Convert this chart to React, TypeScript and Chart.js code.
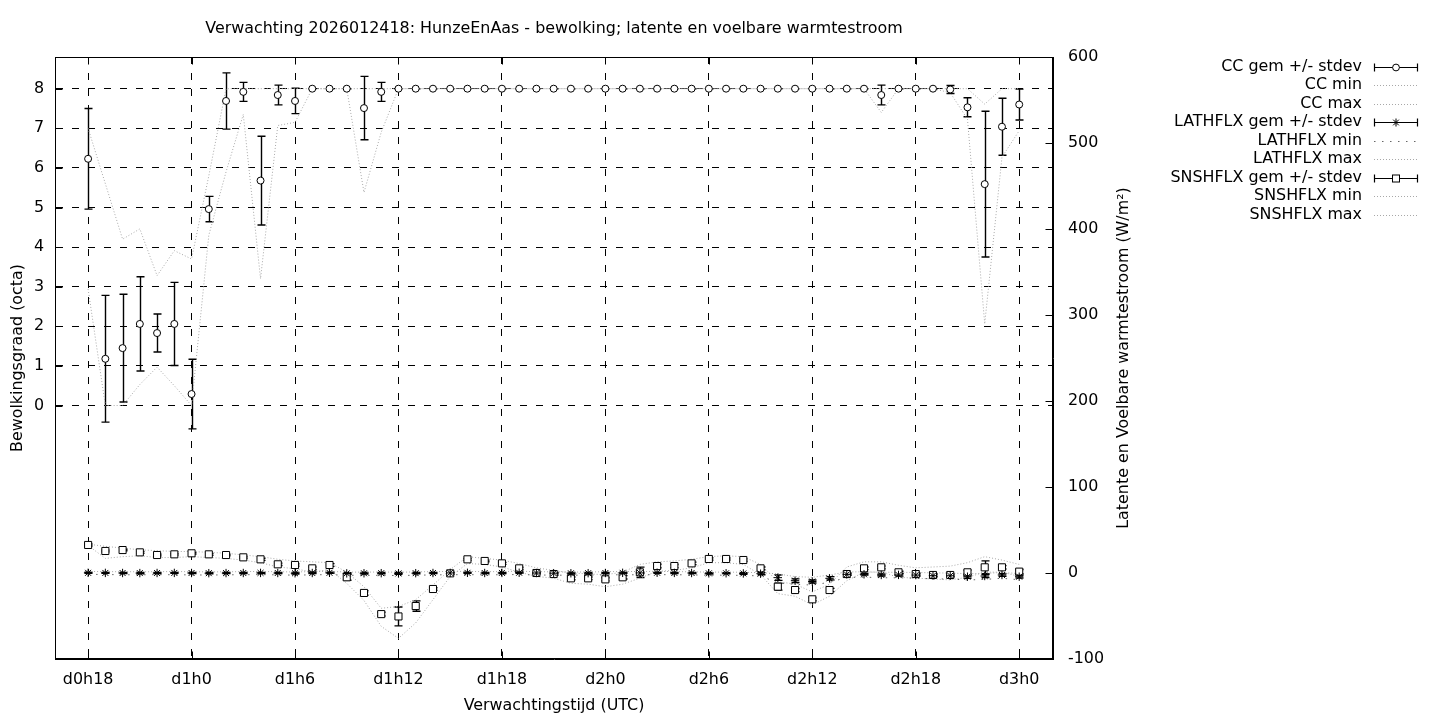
import React, { useEffect, useRef } from 'react';
import { Chart, registerables } from 'chart.js';

Chart.register(...registerables);

// ---- data (hour of forecast, 18 .. 72) ----
const hours = [
  18, 19, 20, 21, 22, 23,
  24, 25, 26, 27, 28, 29,
  30, 31, 32, 33, 34, 35,
  36, 37, 38, 39, 40, 41,
  42, 43, 44, 45, 46, 47,
  48, 49, 50, 51, 52, 53,
  54, 55, 56, 57, 58, 59,
  60, 61, 62, 63, 64, 65,
  66, 67, 68, 69, 70, 71,
  72,
];

const xTickHours = [18, 24, 30, 36, 42, 48, 54, 60, 66, 72];
const xTickLabels = ['d0h18', 'd1h0', 'd1h6', 'd1h12', 'd1h18', 'd2h0', 'd2h6', 'd2h12', 'd2h18', 'd3h0'];
const ccTicks = [0, 1, 2, 3, 4, 5, 6, 7, 8];
const fluxTicks = [-100, 0, 100, 200, 300, 400, 500, 600];

const ccMean = [
  6.23, 1.18, 1.45, 2.06, 1.83, 2.06,
  0.29, 4.96, 7.69, 7.92, 5.68, 7.84,
  7.69, 8, 8, 8, 7.51, 7.92,
  8, 8, 8, 8, 8, 8,
  8, 8, 8, 8, 8, 8,
  8, 8, 8, 8, 8, 8,
  8, 8, 8, 8, 8, 8,
  8, 8, 8, 8, 7.84, 8,
  8, 8, 7.98, 7.53, 5.59, 7.04,
  7.6,
];
const ccStdev = [
  1.27, 1.6, 1.36, 1.19, 0.48, 1.05,
  0.88, 0.32, 0.71, 0.24, 1.12, 0.25,
  0.32, 0, 0, 0, 0.8, 0.24,
  0, 0, 0, 0, 0, 0,
  0, 0, 0, 0, 0, 0,
  0, 0, 0, 0, 0, 0,
  0, 0, 0, 0, 0, 0,
  0, 0, 0, 0, 0.25, 0,
  0, 0, 0.1, 0.24, 1.84, 0.72,
  0.39,
];
const ccMin = [
  2.94, 0, 0, 0.53, 0.97, 0.5,
  0, 4.3, 5.9, 7.35, 3.2, 7.07,
  7.15, 8, 8, 8, 5.38, 6.9,
  8, 8, 8, 8, 8, 8,
  8, 8, 8, 8, 8, 8,
  8, 8, 8, 8, 8, 8,
  8, 8, 8, 8, 8, 8,
  8, 8, 8, 8, 7.4, 8,
  8, 8, 7.9, 7.23, 2.06, 6.27,
  6.94,
];
const ccMax = [
  7.0, 5.6, 4.2, 4.46, 3.28, 3.91,
  3.7, 5.8, 8, 8, 8, 8,
  8, 8, 8, 8, 8, 8,
  8, 8, 8, 8, 8, 8,
  8, 8, 8, 8, 8, 8,
  8, 8, 8, 8, 8, 8,
  8, 8, 8, 8, 8, 8,
  8, 8, 8, 8, 8, 8,
  8, 8, 8, 8, 7.61, 8,
  8,
];

const lathMean = [
  0.2, 0.1, 0, -0.1, 0, 0.1,
  0, -0.2, -0.1, 0, 0.1, 0,
  -0.3, 0, 0.2, -0.4, -0.3, -0.2,
  -0.5, -0.2, 0, 0.1, 0.2, 0,
  0.1, 0.3, 0, -0.2, -0.3, -0.2,
  0, 0.2, 0.1, 0.3, 0.1, 0,
  -0.4, -0.3, -0.5, -0.8, -5.4, -8.9,
  -9.9, -6.2, -1.6, -1.5, -2.3, -2.2,
  -2.4, -3.1, -3.2, -4.3, -3.5, -2.3,
  -4.3,
];
const lathStdev = [
  0.6, 0.5, 0.6, 0.7, 0.6, 0.5,
  0.6, 0.7, 0.6, 0.5, 0.6, 0.7,
  0.8, 0.7, 0.6, 0.8, 0.9, 0.8,
  1.0, 0.8, 0.7, 0.6, 0.6, 0.7,
  0.6, 0.7, 0.7, 0.8, 0.8, 0.7,
  0.7, 0.6, 0.7, 0.6, 0.6, 0.7,
  0.8, 0.7, 0.9, 1.2, 3.2, 2.1,
  1.8, 2.0, 1.1, 1.0, 1.2, 1.4,
  1.5, 1.6, 1.4, 1.8, 1.7, 1.5,
  1.6,
];
const lathMin = [
  -1.5, -1.8, -2.0, -2.1, -1.9, -2.0,
  -2.2, -2.4, -2.1, -2.0, -1.8, -2.2,
  -2.5, -2.1, -1.9, -2.6, -2.8, -2.7,
  -3.0, -2.6, -2.2, -2.0, -1.9, -2.1,
  -2.0, -1.8, -2.3, -2.5, -2.6, -2.4,
  -2.2, -2.0, -2.1, -1.9, -2.0, -2.2,
  -2.6, -2.5, -2.8, -3.4, -11.5, -13.2,
  -14.0, -10.8, -5.2, -4.8, -5.5, -5.6,
  -6.0, -6.8, -7.0, -8.1, -7.5, -6.1,
  -7.9,
];
const lathMax = [
  1.8, 1.6, 1.5, 1.4, 1.5, 1.7,
  1.5, 1.3, 1.4, 1.6, 1.8, 1.5,
  1.2, 1.6, 1.9, 1.1, 1.0, 1.2,
  0.9, 1.3, 1.6, 1.8, 1.9, 1.5,
  1.7, 2.0, 1.6, 1.3, 1.1, 1.2,
  1.5, 1.8, 1.7, 1.9, 1.6, 1.4,
  1.0, 1.1, 0.8, 0.4, -1.0, -4.2,
  -5.0, -2.3, 1.2, 1.4, 0.9, 0.8,
  0.6, 0.2, -0.1, -0.8, -0.4, 0.5,
  -0.6,
];

const snshMean = [
  32.6, 25.6, 26.7, 24.0, 20.9, 21.7,
  22.9, 21.7, 20.9, 18.2, 15.9, 10.1,
  9.3, 5.4, 9.3, -5.0, -23.2, -47.8,
  -50.5, -38.4, -18.6, -0.4, 15.9, 14.0,
  11.2, 5.4, 0.0, -1.2, -6.2, -6.2,
  -7.4, -5.0, 0.8, 8.1, 8.1, 11.2,
  16.3, 16.3, 15.1, 5.4, -15.9, -19.8,
  -30.6, -19.8, -1.2, 5.4, 6.6, 0.8,
  -1.2, -2.3, -2.3, 0.8, 6.6, 6.6,
  1.6,
];
const snshStdev = [
  1.2, 1.0, 0.9, 1.1, 1.0, 0.9,
  1.0, 1.1, 0.9, 1.0, 1.2, 1.4,
  1.3, 1.5, 1.6, 3.5, 2.6, 2.2,
  11.0, 6.0, 1.5, 1.2, 1.1, 1.0,
  1.2, 1.3, 1.1, 1.4, 1.6, 1.5,
  1.8, 1.9, 6.0, 2.0, 1.8, 1.5,
  1.3, 1.2, 1.4, 1.6, 4.0, 1.8,
  1.7, 1.9, 1.2, 1.5, 1.6, 1.3,
  1.4, 1.5, 1.6, 2.5, 7.5, 2.0,
  2.5,
];
const snshMin = [
  32.0, 17.0, 19.0, 20.0, 18.0, 18.0,
  19.0, 18.0, 17.0, 15.0, 12.0, 7.0,
  5.0, 1.0, 4.0, -12.0, -32.0, -62.0,
  -76.0, -58.0, -31.0, -4.0, 11.0, 10.0,
  7.0, 1.0, -4.0, -6.0, -12.0, -13.0,
  -16.0, -13.0, -6.0, 2.0, 3.0, 6.0,
  12.0, 12.0, 10.0, -2.0, -24.0, -27.0,
  -37.0, -27.0, -9.0, 1.0, 1.0, -5.0,
  -6.0, -7.0, -8.0, -5.0, 1.0, 1.0,
  -4.0,
];
const snshMax = [
  33.5, 31.0, 29.0, 27.0, 26.0, 25.0,
  25.0, 24.0, 23.0, 21.0, 19.0, 16.0,
  14.0, 13.0, 12.0, 1.0, -16.0, -41.0,
  -39.0, -31.0, -14.0, 4.0, 19.0, 17.0,
  15.0, 11.0, 6.0, 3.0, 0.0, -1.0,
  -2.0, 1.0, 10.0, 13.0, 14.0, 16.0,
  19.0, 20.0, 19.0, 10.0, -10.0, -13.0,
  -22.0, -13.0, 7.0, 13.0, 13.0, 9.0,
  6.0, 7.0, 8.0, 12.0, 19.0, 15.0,
  10.0,
];

const titleText = 'Verwachting 2026012418: HunzeEnAas - bewolking; latente en voelbare warmtestroom';
const xTitle = 'Verwachtingstijd (UTC)';
const yTitle = 'Bewolkingsgraad (octa)';
const y2Title = 'Latente en Voelbare warmtestroom (W/m²)';
const legendLabels = [
  'CC gem +/- stdev', 'CC min', 'CC max',
  'LATHFLX gem +/- stdev', 'LATHFLX min', 'LATHFLX max',
  'SNSHFLX gem +/- stdev', 'SNSHFLX min', 'SNSHFLX max',
];

const FONT_FAMILY = '"DejaVu Sans", "Liberation Sans", sans-serif';
const FONT_SIZE = 15.9;
const GREY = '#a8a8a8';
const DOT = [1, 2];
const LATH_MIN_DOT = [1.5, 6.5];
const GRID_DASH = [7, 9];

function drawMarker(ctx: CanvasRenderingContext2D, kind: string, x: number, y: number) {
  ctx.save();
  ctx.setLineDash([]);
  ctx.strokeStyle = '#000';
  ctx.fillStyle = '#fff';
  ctx.lineWidth = 1;
  if (kind === 'circle') {
    ctx.beginPath();
    ctx.arc(x, y, 3.4, 0, Math.PI * 2);
    ctx.fill();
    ctx.stroke();
  } else if (kind === 'rect') {
    ctx.fillRect(x - 3.5, y - 3.5, 7, 7);
    ctx.strokeRect(x - 3.5, y - 3.5, 7, 7);
  } else {
    const r = 4;
    const d = r * Math.SQRT1_2;
    ctx.beginPath();
    ctx.moveTo(x - r, y); ctx.lineTo(x + r, y);
    ctx.moveTo(x, y - r); ctx.lineTo(x, y + r);
    ctx.moveTo(x - d, y - d); ctx.lineTo(x + d, y + d);
    ctx.moveTo(x - d, y + d); ctx.lineTo(x + d, y - d);
    ctx.stroke();
  }
  ctx.restore();
}

const errorBarPlugin = {
  id: 'errorBars',
  beforeDatasetsDraw(chart: any) {
    const { ctx, chartArea: a, scales } = chart;
    const xs = scales.x;
    const groups = [
      { scale: scales.y, mean: ccMean, sd: ccStdev },
      { scale: scales.y2, mean: lathMean, sd: lathStdev },
      { scale: scales.y2, mean: snshMean, sd: snshStdev },
    ];
    ctx.save();
    ctx.beginPath();
    ctx.rect(a.left, a.top, a.right - a.left, a.bottom - a.top);
    ctx.clip();
    ctx.strokeStyle = '#000';
    ctx.lineWidth = 1.4;
    ctx.setLineDash([]);
    for (const g of groups) {
      for (let i = 0; i < hours.length; i++) {
        const px = Math.round(xs.getPixelForValue(hours[i])) + 0.5;
        const top = g.scale.getPixelForValue(g.mean[i] + g.sd[i]);
        const bot = g.scale.getPixelForValue(g.mean[i] - g.sd[i]);
        ctx.beginPath();
        ctx.moveTo(px, top); ctx.lineTo(px, bot);
        ctx.moveTo(px - 4, top); ctx.lineTo(px + 4, top);
        ctx.moveTo(px - 4, bot); ctx.lineTo(px + 4, bot);
        ctx.stroke();
      }
    }
    ctx.restore();
  },
};

const decorPlugin = {
  id: 'decor',
  afterDraw(chart: any) {
    const { ctx, chartArea: a, scales } = chart;
    const L = Math.round(a.left) + 0.5;
    const R = Math.round(a.right) - 0.5;
    const T = Math.round(a.top) + 0.5;
    const B = Math.round(a.bottom) - 0.5;
    ctx.save();
    ctx.setLineDash([]);
    ctx.strokeStyle = '#000';
    ctx.lineWidth = 1;
    ctx.strokeRect(L, T, R - L, B - T);

    // inward tick marks
    const tl = 7;
    ctx.beginPath();
    for (const h of xTickHours) {
      const px = Math.round(scales.x.getPixelForValue(h)) + 0.5;
      ctx.moveTo(px, B); ctx.lineTo(px, B - tl);
      ctx.moveTo(px, T); ctx.lineTo(px, T + tl);
    }
    for (const v of ccTicks) {
      const py = Math.round(scales.y.getPixelForValue(v)) + 0.5;
      ctx.moveTo(L, py); ctx.lineTo(L + tl, py);
    }
    for (const v of fluxTicks) {
      const py = Math.round(scales.y2.getPixelForValue(v)) + 0.5;
      ctx.moveTo(R, py); ctx.lineTo(R - tl, py);
    }
    ctx.stroke();

    // titles
    ctx.fillStyle = '#000';
    ctx.font = `${FONT_SIZE}px ${FONT_FAMILY}`;
    ctx.textAlign = 'center';
    ctx.textBaseline = 'middle';
    const cx = (a.left + a.right) / 2;
    ctx.fillText(titleText, cx, 29);
    ctx.fillText(xTitle, cx, 706);
    const cy = (a.top + a.bottom) / 2;
    ctx.save();
    ctx.translate(18, cy);
    ctx.rotate(-Math.PI / 2);
    ctx.fillText(yTitle, 0, 0);
    ctx.restore();
    ctx.save();
    ctx.translate(1124, cy);
    ctx.rotate(-Math.PI / 2);
    ctx.fillText(y2Title, 0, 0);
    ctx.restore();

    // legend
    const kinds = ['err-circle', 'dot', 'dot', 'err-star', 'ldot', 'dot', 'err-rect', 'dot', 'dot'];
    const textRight = 1362;
    const x1 = 1374;
    const x2 = 1418;
    for (let i = 0; i < legendLabels.length; i++) {
      const y = 66.5 + i * 18.55;
      ctx.fillStyle = '#000';
      ctx.textAlign = 'right';
      ctx.textBaseline = 'middle';
      ctx.fillText(legendLabels[i], textRight, y);
      const k = kinds[i];
      const yy = Math.round(y) + 0.5;
      if (k.startsWith('err')) {
        ctx.setLineDash([]);
        ctx.strokeStyle = '#000';
        ctx.lineWidth = 1.2;
        ctx.beginPath();
        ctx.moveTo(x1, yy); ctx.lineTo(x2, yy);
        ctx.moveTo(x1 + 0.5, yy - 4); ctx.lineTo(x1 + 0.5, yy + 4);
        ctx.moveTo(x2 - 0.5, yy - 4); ctx.lineTo(x2 - 0.5, yy + 4);
        ctx.stroke();
        drawMarker(ctx, k.slice(4), (x1 + x2) / 2, yy);
      } else {
        ctx.setLineDash(k === 'ldot' ? LATH_MIN_DOT : DOT);
        ctx.strokeStyle = k === 'ldot' ? '#666' : GREY;
        ctx.lineWidth = 1;
        ctx.beginPath();
        ctx.moveTo(x1, yy); ctx.lineTo(x2, yy);
        ctx.stroke();
      }
    }
    ctx.restore();
  },
};

export default function App() {
  const ref = useRef<HTMLCanvasElement>(null);
  useEffect(() => {
    const canvas = ref.current as HTMLCanvasElement;
    const pts = (arr: number[]) => hours.map((h, i) => ({ x: h, y: arr[i] }));
    const lineDs = (label: string, arr: number[], axis: string, color: string, dash: number[]) => ({
      label,
      data: pts(arr),
      yAxisID: axis,
      showLine: true,
      borderColor: color,
      borderWidth: 1,
      borderDash: dash,
      pointRadius: 0,
      pointHoverRadius: 0,
      fill: false,
      tension: 0,
      order: 2,
    });
    const markDs = (label: string, arr: number[], axis: string, style: string, radius: number) => ({
      label,
      data: pts(arr),
      yAxisID: axis,
      showLine: false,
      pointStyle: style,
      pointRadius: radius,
      pointHoverRadius: radius,
      pointBackgroundColor: '#fff',
      pointBorderColor: '#000',
      pointBorderWidth: 1,
      borderColor: '#000',
      order: 0,
    });
    const tickFont = { family: FONT_FAMILY, size: FONT_SIZE };
    const chart = new Chart(canvas, {
      type: 'line',
      data: {
        datasets: [
          markDs('CC gem +/- stdev', ccMean, 'y', 'circle', 3.5),
          lineDs('CC min', ccMin, 'y', GREY, DOT),
          lineDs('CC max', ccMax, 'y', GREY, DOT),
          markDs('LATHFLX gem +/- stdev', lathMean, 'y2', 'star', 4.2),
          lineDs('LATHFLX min', lathMin, 'y2', '#666', LATH_MIN_DOT),
          lineDs('LATHFLX max', lathMax, 'y2', GREY, DOT),
          markDs('SNSHFLX gem +/- stdev', snshMean, 'y2', 'rect', 5),
          lineDs('SNSHFLX min', snshMin, 'y2', GREY, DOT),
          lineDs('SNSHFLX max', snshMax, 'y2', GREY, DOT),
        ] as any,
      },
      options: {
        responsive: false,
        animation: false,
        devicePixelRatio: 1,
        layout: { padding: { top: 57, left: 0, right: 0, bottom: 0 } },
        plugins: {
          legend: { display: false },
          title: { display: false },
          tooltip: { enabled: false },
        },
        events: [],
        scales: {
          x: {
            type: 'linear',
            min: 16.08,
            max: 73.96,
            afterBuildTicks: (s: any) => { s.ticks = xTickHours.map((v) => ({ value: v })); },
            afterFit: (s: any) => { s.height = 61; },
            ticks: {
              autoSkip: false,
              maxRotation: 0,
              padding: 11,
              color: '#000',
              font: tickFont,
              callback: (v: any) => {
                const i = xTickHours.indexOf(Number(v));
                return i >= 0 ? xTickLabels[i] : '';
              },
            },
            grid: { display: true, color: '#000', lineWidth: 1, drawTicks: false },
            border: { display: true, color: '#000', width: 1, dash: GRID_DASH },
          },
          y: {
            type: 'linear',
            position: 'left',
            min: -6.4,
            max: 8.8,
            afterBuildTicks: (s: any) => { s.ticks = ccTicks.map((v) => ({ value: v })); },
            afterFit: (s: any) => { s.width = 55; },
            ticks: { padding: 11, color: '#000', font: tickFont },
            grid: { display: true, color: '#000', lineWidth: 1, drawTicks: false },
            border: { display: true, color: '#000', width: 1, dash: GRID_DASH },
          },
          y2: {
            type: 'linear',
            position: 'right',
            min: -100,
            max: 600,
            afterBuildTicks: (s: any) => { s.ticks = fluxTicks.map((v) => ({ value: v })); },
            afterFit: (s: any) => { s.width = 387; },
            ticks: { padding: 15, color: '#000', font: tickFont },
            grid: { display: false, drawTicks: false },
            border: { display: true, color: '#000', width: 1 },
          },
        },
      } as any,
      plugins: [errorBarPlugin, decorPlugin],
    });
    return () => chart.destroy();
  }, []);
  return (
    <div style={{ position: 'absolute', left: 0, top: 0, width: 1440, height: 720, background: '#fff' }}>
      <canvas ref={ref} width={1440} height={720} style={{ display: 'block' }} />
    </div>
  );
}
